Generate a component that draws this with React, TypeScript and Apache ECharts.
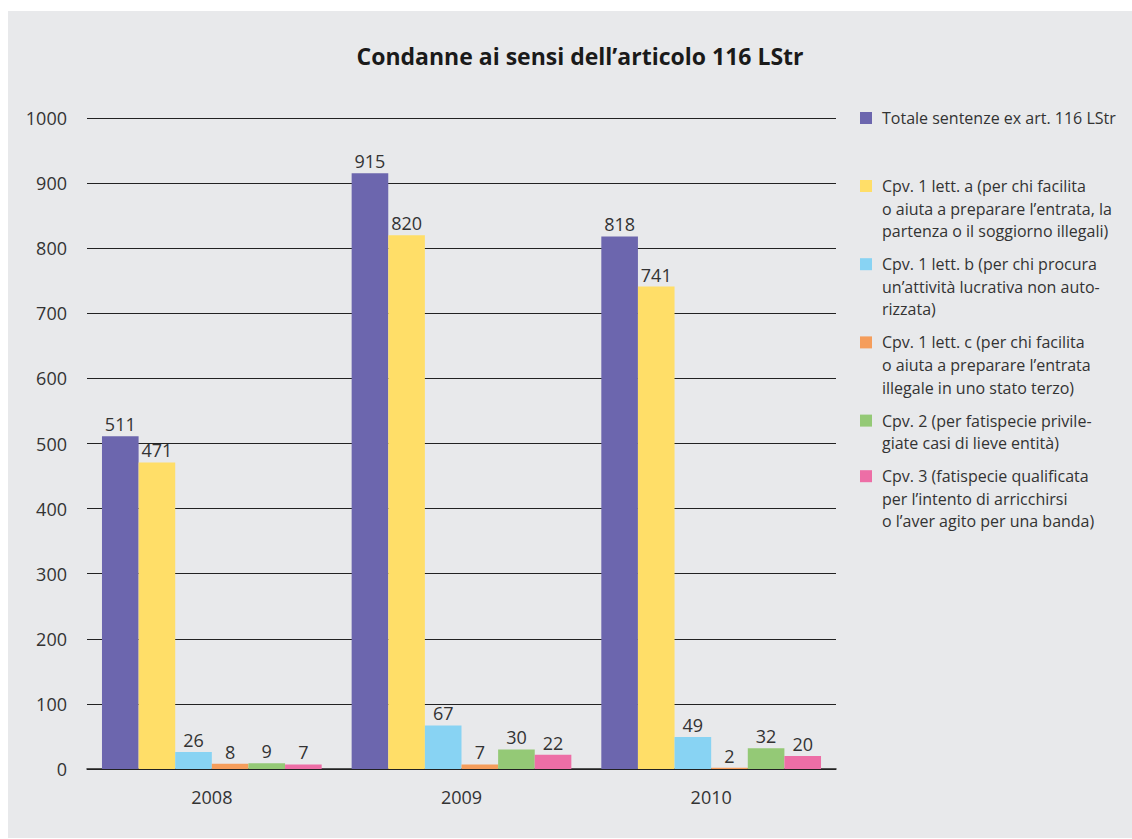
import React, { useEffect, useRef } from "react";
import * as echarts from "echarts";

const years = ["2008", "2009", "2010"];
const seriesNames = [
  "Totale sentenze ex art. 116 LStr",
  "Cpv. 1 lett. a (per chi facilita\no aiuta a preparare l’entrata, la\npartenza o il soggiorno illegali)",
  "Cpv. 1 lett. b (per chi procura\nun’attività lucrativa non auto-\nrizzata)",
  "Cpv. 1 lett. c (per chi facilita\no aiuta a preparare l’entrata\nillegale in uno stato terzo)",
  "Cpv. 2 (per fatispecie privile-\ngiate casi di lieve entità)",
  "Cpv. 3 (fatispecie qualificata\nper l’intento di arricchirsi\no l’aver agito per una banda)",
];
const totale = [511, 915, 818];
const lettA = [471, 820, 741];
const lettB = [26, 67, 49];
const lettC = [8, 7, 2];
const cpv2 = [9, 30, 32];
const cpv3 = [7, 22, 20];
const seriesValues = [totale, lettA, lettB, lettC, cpv2, cpv3];
const colors = ["#6c66ae", "#ffde68", "#88d3f3", "#f59d5b", "#94c976", "#ed6ea6"];

const FONT = "'Open Sans', 'Noto Sans', sans-serif";
const TEXT = "#333333";

export default function App() {
  const ref = useRef<HTMLDivElement>(null);
  useEffect(() => {
    if (!ref.current) return;
    const chart = echarts.init(ref.current, null, { renderer: "svg" });

    // legend drawn as graphic items (icon aligned to the first text line)
    const legendGraphics: any[] = [];
    const lineH = 22.6;
    let y = 107;
    seriesNames.forEach((name, i) => {
      const lines = name.split("\n").length;
      legendGraphics.push({
        type: "rect",
        shape: { x: 852, y: y - 6, width: 12, height: 12 },
        style: { fill: colors[i] },
      });
      legendGraphics.push({
        type: "text",
        x: 874,
        y: y - lineH / 2,
        style: {
          text: name,
          font: `16px ${FONT}`,
          fill: TEXT,
          lineHeight: lineH,
          verticalAlign: "top",
        },
      });
      const gap = i === 0 ? 68 : 33;
      y += (lines - 1) * lineH + gap;
    });

    chart.setOption({
      animation: false,
      backgroundColor: "transparent",
      textStyle: { fontFamily: FONT },
      title: {
        text: "Condanne ai sensi dell’articolo 116 LStr",
        left: 567,
        textAlign: "center",
        top: 28,
        textStyle: { fontFamily: FONT, fontSize: 23, fontWeight: "bold", color: "#1a1a1a" },
      },
      grid: { left: 79, right: 296, top: 107, bottom: 69, containLabel: false },
      xAxis: {
        type: "category",
        data: years,
        axisTick: { show: false },
        axisLine: { lineStyle: { color: "#222", width: 1.5 } },
        axisLabel: { color: TEXT, fontSize: 18, margin: 19, fontFamily: FONT },
      },
      yAxis: {
        type: "value",
        min: 0,
        max: 1000,
        interval: 100,
        axisLine: { show: false },
        axisTick: { show: false },
        axisLabel: {
          color: TEXT,
          fontSize: 18,
          margin: 20,
          fontFamily: FONT,
          formatter: (v: number) => String(v),
        },
        splitLine: { lineStyle: { color: "#222", width: 1 } },
      },
      series: seriesValues.map((vals, i) => ({
        type: "bar",
        name: seriesNames[i],
        data: vals,
        barGap: "0%",
        barCategoryGap: "12%",
        itemStyle: { color: colors[i] },
        label: {
          show: true,
          position: "top",
          distance: 3,
          color: TEXT,
          fontSize: 18,
          fontFamily: FONT,
        },
      })),
      graphic: legendGraphics,
    });
    return () => chart.dispose();
  }, []);

  return (
    <div
      style={{
        position: "absolute",
        left: 8,
        top: 11,
        width: 1124,
        height: 827,
        background: "#e8e9eb",
      }}
    >
      <div ref={ref} style={{ width: 1124, height: 827 }} />
    </div>
  );
}
